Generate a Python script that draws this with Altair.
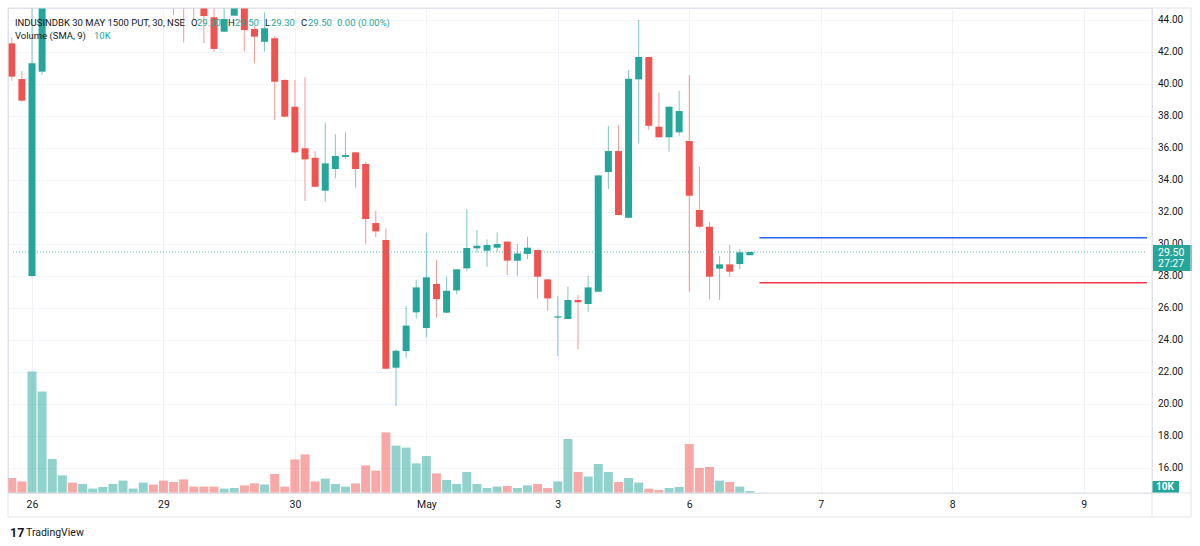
import altair as alt
import pandas as pd

# ---------------- data ----------------
bar_index = list(range(-1, 73))
opens = [42.54, 40.31, 28.0, 40.77, 46.8, 48.0, 48.6, 47.9, 48.4, 48.6, 48.9, 49.3, 49.9, 50.1, 50.5, 48.0,
         46.9, 45.6, 45.2, 44.9, 44.17, 43.27, 44.27, 45.0, 43.44, 42.64, 42.86, 40.25, 38.58, 35.98, 35.39,
         33.33, 34.69, 35.44, 35.73, 35.0, 31.31, 30.25, 22.27, 23.31, 25.73, 24.75, 27.5, 25.71, 27.1, 28.48,
         29.73, 29.58, 29.77, 30.15, 28.96, 29.38, 29.63, 27.79, 25.4, 25.31, 26.5, 26.25, 27.02, 34.5, 35.81,
         31.64, 40.29, 41.69, 37.33, 36.67, 36.98, 36.44, 32.125, 31.08, 28.46, 28.73, 28.75, 29.3]
highs = [42.9, 40.81, 45.5, 47.2, 48.5, 49.0, 48.9, 48.8, 48.9, 49.2, 49.6, 50.2, 50.3, 50.8, 50.7, 48.4,
         47.2, 46.0, 45.6, 45.3, 45.1, 45.0, 45.4, 45.3, 43.6, 44.48, 43.0, 40.31, 40.25, 40.42, 35.81,
         37.6, 36.86, 36.98, 35.75, 35.14, 32.08, 30.98, 23.42, 26.13, 27.75, 30.71, 29.0, 27.96, 28.42, 32.19,
         30.875, 30.29, 30.73, 30.15, 29.98, 30.46, 29.65, 27.8, 26.75, 27.33, 26.81, 28.02, 34.29, 37.375, 37.44,
         40.875, 44.0, 41.7, 39.46, 38.6, 39.58, 40.54, 34.83, 31.375, 29.27, 29.94, 29.69, 29.5]
lows = [40.2, 38.9, 27.95, 40.56, 46.2, 47.4, 47.6, 47.5, 48.0, 48.2, 48.5, 49.0, 49.6, 49.8, 49.6, 46.5,
        44.3, 42.6, 44.0, 42.55, 42.02, 43.27, 44.27, 42.02, 41.3, 42.02, 37.75, 37.9, 35.67, 32.69, 33.55,
        32.64, 34.1, 35.31, 33.52, 30.0, 30.42, 22.17, 19.875, 22.86, 25.35, 24.17, 25.4, 25.67, 26.86, 28.33,
        29.46, 28.58, 29.52, 28.06, 28.0, 29.06, 26.6, 25.83, 23.0, 25.3, 23.42, 25.77, 27.0, 33.44, 31.8,
        31.6, 36.29, 37.125, 36.65, 35.77, 36.77, 27.02, 30.98, 26.54, 26.5, 27.96, 28.42, 29.3]
closes = [40.46, 38.96, 41.29, 46.8, 48.0, 48.6, 47.9, 48.4, 48.6, 48.9, 49.3, 49.9, 50.1, 50.5, 49.9, 46.9,
          45.6, 45.2, 44.9, 44.25, 42.19, 44.06, 45.0, 43.37, 42.96, 43.48, 40.14, 37.96, 35.73, 35.29, 33.58,
          35.04, 35.5, 35.56, 34.69, 31.56, 30.79, 22.21, 23.33, 24.9, 27.29, 27.92, 26.56, 27.08, 28.42, 29.75,
          29.89, 29.94, 30.0, 28.96, 29.4, 29.77, 27.96, 26.6, 25.48, 26.5, 26.36, 27.29, 34.29, 35.81, 31.81,
          40.33, 41.69, 37.39, 36.67, 38.58, 38.31, 33.02, 31.08, 27.96, 28.73, 28.27, 29.48, 29.5]
volumes_k = [75, 58, 608, 508, 170, 88, 52, 45, 22, 30, 45, 62, 22, 52, 42, 62,
             55, 68, 32, 32, 32, 22, 25, 38, 48, 42, 95, 32, 168, 193, 58,
             72, 45, 32, 48, 138, 112, 303, 237, 227, 148, 185, 98, 65, 45, 105,
             45, 25, 32, 35, 25, 38, 45, 25, 58, 270, 105, 82, 145, 105, 55,
             75, 52, 22, 15, 25, 30, 245, 125, 130, 62, 55, 32, 10]

day_index = [1, 14, 27, 40, 53, 66, 79, 92, 105]
day_labels = ["26", "29", "30", "May", "3", "6", "7", "8", "9"]
price_ticks = [16, 18, 20, 22, 24, 26, 28, 30, 32, 34, 36, 38, 40, 42, 44]

last_price = 29.50
last_price_label = "29.50"
countdown_label = "27:27"
last_volume_k = 10
last_volume_label = "10K"
blue_level = 30.39
red_level = 27.58
level_start = 72.94

x_domain = [-0.88, 111.27]
y_domain = [14.44, 44.75]
vol_domain = [0, 2425]

title_text = "INDUSINDBK 30 MAY 1500 PUT, 30, NSE"
ohlc_keys = ["O", "H", "L", "C"]
ohlc_vals = ["29.30", "29.50", "29.30", "29.50"]
change_text = "0.00 (0.00%)"
vol_legend = "Volume (SMA, 9)"

# ---------------- styling ----------------
W, H = 1144, 485
GREEN = "#26a69a"
RED = "#ef5350"
DARK = "#131722"
GRID = "#f0f3fa"
FRAME = "#e0e3eb"
FONT = "Roboto"

df = pd.DataFrame({"i": bar_index, "o": opens, "h": highs, "l": lows, "c": closes, "v": volumes_k})
df["dir"] = ["up" if c >= o else "down" for o, c in zip(df["o"], df["c"])]

ticks_df = pd.DataFrame({"p": price_ticks, "lab": [f"{p:.2f}" for p in price_ticks]})

label_expr = "".join(f"datum.value == {i} ? '{t}' : " for i, t in zip(day_index, day_labels)) + "''"

x_axis = alt.Axis(values=day_index, labelExpr=label_expr, title=None, grid=True, gridColor=GRID,
                  ticks=False, domain=False, labelPadding=6, labelFontSize=10.5, labelColor=DARK,
                  labelFlush=False, labelOverlap=False)
x_scale = alt.Scale(domain=x_domain, nice=False, zero=False)
x_enc = alt.X("i:Q", scale=x_scale, axis=x_axis)

y_axis = alt.Axis(values=price_ticks, title=None, grid=True, gridColor=GRID, orient="right",
                  ticks=False, domain=False, labels=False)
y_scale = alt.Scale(domain=y_domain, nice=False, zero=False)

color = alt.Color("dir:N", scale=alt.Scale(domain=["up", "down"], range=[GREEN, RED]), legend=None)

base = alt.Chart(df)
one = pd.DataFrame({"a": [0]})

wicks = base.mark_rule(strokeWidth=1, opacity=0.6, clip=True).encode(
    x=x_enc, y=alt.Y("l:Q", scale=y_scale, axis=y_axis), y2="h:Q", color=color)
bodies = base.mark_bar(size=7, clip=True).encode(
    x=x_enc, y=alt.Y("o:Q", scale=y_scale, axis=y_axis), y2="c:Q", color=color)

price_labels = alt.Chart(ticks_df).mark_text(color=DARK, fontSize=10, font=FONT, align="left",
                                             baseline="middle").encode(
    x=alt.value(W + 6), y=alt.Y("p:Q", scale=y_scale, axis=y_axis), text="lab:N")

price_line = alt.Chart(one).mark_rule(color=GREEN, strokeDash=[1, 2], strokeWidth=1, opacity=0.8, clip=True).encode(
    x=alt.XDatum(x_domain[0], axis=x_axis), x2=alt.datum(x_domain[1]),
    y=alt.YDatum(last_price, axis=y_axis))
blue_line = alt.Chart(one).mark_rule(color="#2962ff", strokeWidth=1.5, clip=True).encode(
    x=alt.XDatum(level_start, axis=x_axis), x2=alt.datum(x_domain[1]),
    y=alt.YDatum(blue_level, axis=y_axis))
red_line = alt.Chart(one).mark_rule(color="#f23645", strokeWidth=1.5, clip=True).encode(
    x=alt.XDatum(level_start, axis=x_axis), x2=alt.datum(x_domain[1]),
    y=alt.YDatum(red_level, axis=y_axis))

price_box = alt.Chart(one).mark_rect(color=GREEN, yOffset=-7, y2Offset=19).encode(
    x=alt.value(W + 1), x2=alt.value(W + 40),
    y=alt.YDatum(last_price, axis=y_axis), y2=alt.datum(last_price))
price_txt = alt.Chart(one).mark_text(color="white", fontSize=10.5, font=FONT, align="left", baseline="middle",
                                     yOffset=1).encode(
    x=alt.value(W + 6), y=alt.YDatum(last_price, axis=y_axis), text=alt.value(last_price_label))
count_txt = alt.Chart(one).mark_text(color="white", fontSize=10.5, font=FONT, align="left", baseline="middle",
                                     yOffset=12).encode(
    x=alt.value(W + 6), y=alt.YDatum(last_price, axis=y_axis), text=alt.value(countdown_label))

price_layer = alt.layer(wicks, bodies, price_line, blue_line, red_line, price_labels,
                        price_box, price_txt, count_txt)

vol_scale = alt.Scale(domain=vol_domain, nice=False, zero=True)
vol_bars = base.mark_bar(size=9, opacity=0.5, clip=True).encode(
    x=x_enc, y=alt.Y("v:Q", scale=vol_scale, axis=None), y2=alt.datum(0), color=color)
vol_box = alt.Chart(one).mark_rect(color=GREEN, yOffset=-10).encode(
    x=alt.value(W), x2=alt.value(W + 27),
    y=alt.YDatum(last_volume_k, axis=None), y2=alt.datum(0))
vol_txt = alt.Chart(one).mark_text(color="white", fontSize=10, fontWeight="bold", font=FONT, align="left",
                                   baseline="middle", yOffset=-4).encode(
    x=alt.value(W + 4), y=alt.YDatum(last_volume_k, axis=None), text=alt.value(last_volume_label))
vol_layer = alt.layer(vol_bars, vol_box, vol_txt)

# frame lines around axes
frame = alt.Chart(one).mark_rect(fill="white", fillOpacity=0, stroke=FRAME, strokeWidth=1).encode(
    x=alt.value(0), x2=alt.value(W + 39), y=alt.value(0), y2=alt.value(H + 24))
sep_v = alt.Chart(one).mark_rule(color=FRAME, strokeWidth=1).encode(
    x=alt.value(W), y=alt.value(0), y2=alt.value(H + 24))
sep_h = alt.Chart(one).mark_rule(color=FRAME, strokeWidth=1).encode(
    x=alt.value(0), x2=alt.value(W + 39), y=alt.value(H))


def txt(s, px, py, col=DARK, size=9.5, weight="normal"):
    return alt.Chart(one).mark_text(color=col, fontSize=size, font=FONT, align="left", baseline="alphabetic",
                                    fontWeight=weight).encode(
        x=alt.value(px - 8), y=alt.value(py - 8), text=alt.value(s))


legend_marks = [txt(title_text, 15, 26)]
key_x = [191, 228, 265, 301]
val_x = [197, 235, 271, 308]
for k, kx, v, vx in zip(ohlc_keys, key_x, ohlc_vals, val_x):
    legend_marks.append(txt(k, kx, 26))
    legend_marks.append(txt(v, vx, 26, GREEN))
legend_marks.append(txt(change_text, 337, 26, GREEN))
legend_marks.append(txt(vol_legend, 15, 39))
legend_marks.append(txt(last_volume_label, 94, 39, GREEN))
legend_marks.append(txt("17", 10, 537, DARK, 12.5, "bold"))
legend_marks.append(txt("TradingView", 26, 536, DARK, 10.5))

chart = alt.layer(vol_layer, price_layer, frame, sep_v, sep_h, *legend_marks).resolve_scale(
    y="independent"
).properties(
    width=W, height=H,
    autosize=alt.AutoSizeParams(type="none"),
    padding={"left": 8, "top": 8, "right": 48, "bottom": 53},
    background="white",
).configure_view(stroke=FRAME, strokeWidth=1).configure_axis(labelFont=FONT)

chart.save("out.html", embed_options={"renderer": "svg", "actions": False})
